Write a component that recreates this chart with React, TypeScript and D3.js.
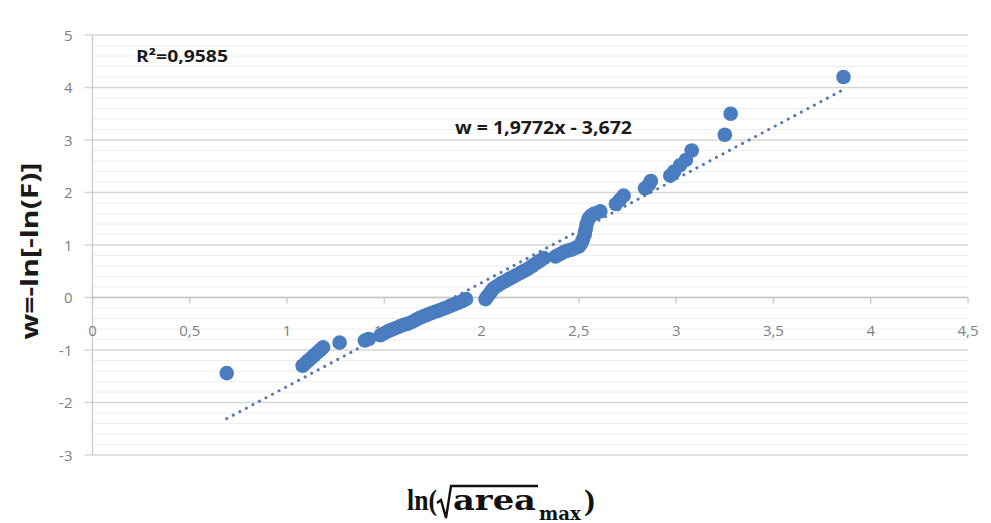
import React, { useEffect, useRef } from "react";
import * as d3 from "d3";

// observed points, x = ln(sqrt(area_max)), w = -ln[-ln(F)]
const xValues = [
  0.69,
  1.08, 1.095, 1.11, 1.125, 1.14, 1.155, 1.17, 1.185,
  1.27, 1.4, 1.42,
  1.48, 1.5, 1.52, 1.54, 1.56, 1.58, 1.6, 1.62, 1.64, 1.66, 1.68, 1.7, 1.72,
  1.74, 1.76, 1.78, 1.8, 1.82, 1.84, 1.86, 1.88, 1.9, 1.92,
  2.02, 2.03, 2.04, 2.05, 2.06, 2.08, 2.1, 2.12, 2.14, 2.16, 2.18, 2.2, 2.22,
  2.24, 2.26, 2.28, 2.3, 2.32,
  2.38, 2.4, 2.42, 2.44, 2.46, 2.48, 2.5, 2.51, 2.52, 2.53, 2.535, 2.54, 2.55,
  2.56, 2.58, 2.61,
  2.69, 2.71, 2.73, 2.84, 2.86, 2.87, 2.97, 2.99, 3.02, 3.05, 3.08,
  3.25, 3.28, 3.86,
];
const yValues = [
  -1.44,
  -1.3, -1.25, -1.2, -1.15, -1.1, -1.05, -1.0, -0.95,
  -0.86, -0.82, -0.79,
  -0.72, -0.68, -0.64, -0.61, -0.58, -0.55, -0.52, -0.5, -0.47, -0.43, -0.39, -0.36, -0.33,
  -0.3, -0.27, -0.25, -0.22, -0.19, -0.16, -0.13, -0.1, -0.07, -0.03,
  -0.03, 0.02, 0.07, 0.12, 0.17, 0.22, 0.27, 0.31, 0.35, 0.39, 0.43, 0.47, 0.51,
  0.55, 0.6, 0.65, 0.7, 0.75,
  0.78, 0.82, 0.86, 0.89, 0.91, 0.94, 0.97, 1.02, 1.1, 1.2, 1.3, 1.4, 1.5,
  1.55, 1.6, 1.64,
  1.78, 1.86, 1.94, 2.08, 2.15, 2.22, 2.32, 2.4, 2.52, 2.62, 2.8,
  3.1, 3.5, 4.2,
];

const xTicks = [0, 0.5, 1, 1.5, 2, 2.5, 3, 3.5, 4, 4.5];
const yTicks = [-3, -2, -1, 0, 1, 2, 3, 4, 5];

const slope = 1.9772;
const intercept = -3.672;
const equationLabel = "w = 1,9772x - 3,672";
const rSquaredLabel = "R²=0,9585";
const yTitle = "w=-ln[-ln(F)]";

const fmt = (v: number) => String(v).replace(".", ",");

const drawChart = (svgEl: SVGSVGElement) => {
  const width = 991,
    height = 523;
  const svg = d3.select(svgEl);
  svg.selectAll("*").remove();
  svg.attr("width", width).attr("height", height);

  svg.append("rect").attr("width", width).attr("height", height).attr("fill", "white");

  const x = d3.scaleLinear().domain([0, 4.5]).range([92.5, 968]);
  const y = d3.scaleLinear().domain([-3, 5]).range([455, 35]);

  const tickFont = "'Open Sans', 'Noto Sans', sans-serif";

  // minor gridlines every 0.2
  const minor = d3.range(-3, 5.001, 0.2).filter((v) => Math.abs(v - Math.round(v)) > 0.01);
  svg
    .append("g")
    .selectAll("line")
    .data(minor)
    .enter()
    .append("line")
    .attr("x1", x(0))
    .attr("x2", x(4.5))
    .attr("y1", (d) => y(d))
    .attr("y2", (d) => y(d))
    .attr("stroke", "#eeeeee")
    .attr("stroke-width", 1);

  svg
    .append("g")
    .selectAll("line")
    .data(yTicks)
    .enter()
    .append("line")
    .attr("x1", x(0) - 8)
    .attr("x2", x(4.5))
    .attr("y1", (d) => y(d))
    .attr("y2", (d) => y(d))
    .attr("stroke", "#d6d6d6")
    .attr("stroke-width", 1.7);

  // y axis
  svg
    .append("line")
    .attr("x1", x(0))
    .attr("x2", x(0))
    .attr("y1", y(5))
    .attr("y2", y(-3))
    .attr("stroke", "#c8c8c8")
    .attr("stroke-width", 1.3);

  svg
    .append("g")
    .selectAll("text")
    .data(yTicks)
    .enter()
    .append("text")
    .attr("x", x(0) - 20)
    .attr("y", (d) => y(d) + 5.5)
    .attr("text-anchor", "end")
    .attr("font-family", tickFont)
    .attr("font-size", 15)
    .attr("fill", "#7f7f7f")
    .text((d) => fmt(d));

  // x axis crossing at w = 0
  svg
    .append("line")
    .attr("x1", x(0))
    .attr("x2", x(4.5))
    .attr("y1", y(0))
    .attr("y2", y(0))
    .attr("stroke", "#c8c8c8")
    .attr("stroke-width", 1.3);

  svg
    .append("g")
    .selectAll("line")
    .data(xTicks)
    .enter()
    .append("line")
    .attr("x1", (d) => x(d))
    .attr("x2", (d) => x(d))
    .attr("y1", y(0))
    .attr("y2", y(0) + 6)
    .attr("stroke", "#c8c8c8")
    .attr("stroke-width", 1.3);

  svg
    .append("g")
    .selectAll("text")
    .data(xTicks)
    .enter()
    .append("text")
    .attr("x", (d) => x(d))
    .attr("y", y(0) + 38)
    .attr("text-anchor", "middle")
    .attr("font-family", tickFont)
    .attr("font-size", 15)
    .attr("fill", "#7f7f7f")
    .text((d) => fmt(d));

  // linear trendline
  const xMin = d3.min(xValues) as number;
  const xMax = d3.max(xValues) as number;
  svg
    .append("line")
    .attr("x1", x(xMin))
    .attr("y1", y(slope * xMin + intercept))
    .attr("x2", x(xMax))
    .attr("y2", y(slope * xMax + intercept))
    .attr("stroke", "#5878ad")
    .attr("stroke-width", 3)
    .attr("stroke-linecap", "round")
    .attr("stroke-dasharray", "0.1 7.3");

  // points
  svg
    .append("g")
    .selectAll("circle")
    .data(d3.zip(xValues, yValues))
    .enter()
    .append("circle")
    .attr("cx", (d) => x(d[0]))
    .attr("cy", (d) => y(d[1]))
    .attr("r", 7.3)
    .attr("fill", "#4a7cc0");

  // annotations
  svg
    .append("text")
    .attr("x", 136)
    .attr("y", 62)
    .attr("font-family", tickFont)
    .attr("font-weight", "bold")
    .attr("font-size", 16)
    .attr("fill", "#1a1a1a")
    .attr("textLength", 92)
    .attr("lengthAdjust", "spacingAndGlyphs")
    .text(rSquaredLabel);

  svg
    .append("text")
    .attr("x", 455)
    .attr("y", 134)
    .attr("font-family", tickFont)
    .attr("font-weight", "bold")
    .attr("font-size", 17)
    .attr("fill", "#1a1a1a")
    .attr("textLength", 177)
    .attr("lengthAdjust", "spacingAndGlyphs")
    .text(equationLabel);

  // y title
  svg
    .append("text")
    .attr("transform", "translate(38, 251) rotate(-90)")
    .attr("text-anchor", "middle")
    .attr("font-family", "'Open Sans', 'Noto Sans', sans-serif")
    .attr("font-weight", "bold")
    .attr("font-size", 23)
    .attr("fill", "#1a1a1a")
    .attr("textLength", 177)
    .attr("lengthAdjust", "spacingAndGlyphs")
    .text(yTitle);

  // x title: ln(√area_max)
  const serif = "'DejaVu Serif', 'Liberation Serif', serif";
  const serifNarrow = "'Liberation Serif', 'DejaVu Serif', serif";
  const xt = svg.append("g").attr("fill", "#111").attr("font-weight", "bold");
  xt.append("text")
    .attr("x", 407)
    .attr("y", 510)
    .attr("font-family", serifNarrow)
    .attr("font-size", 30)
    .attr("textLength", 30)
    .attr("lengthAdjust", "spacingAndGlyphs")
    .text("ln(");
  xt.append("path")
    .attr("d", "M437,503 L441,500 L446,518 L451,486 L538,486")
    .attr("fill", "none")
    .attr("stroke", "#111")
    .attr("stroke-width", 2.4);
  xt.append("text")
    .attr("x", 453)
    .attr("y", 510)
    .attr("font-family", serif)
    .attr("font-size", 28)
    .attr("textLength", 83)
    .attr("lengthAdjust", "spacingAndGlyphs")
    .text("area");
  xt.append("text")
    .attr("x", 539)
    .attr("y", 520)
    .attr("font-family", serif)
    .attr("font-size", 19)
    .attr("textLength", 42)
    .attr("lengthAdjust", "spacingAndGlyphs")
    .text("max");
  xt.append("text")
    .attr("x", 584)
    .attr("y", 510)
    .attr("font-family", serifNarrow)
    .attr("font-size", 30)
    .attr("textLength", 11)
    .attr("lengthAdjust", "spacingAndGlyphs")
    .text(")");
};

const App = () => {
  const svgRef = useRef<SVGSVGElement>(null);

  useEffect(() => {
    if (svgRef.current) drawChart(svgRef.current);
  }, []);

  return (
    <div style={{ position: "absolute", top: 0, left: 0 }}>
      <svg ref={svgRef} style={{ display: "block" }} />
    </div>
  );
};

export default App;
